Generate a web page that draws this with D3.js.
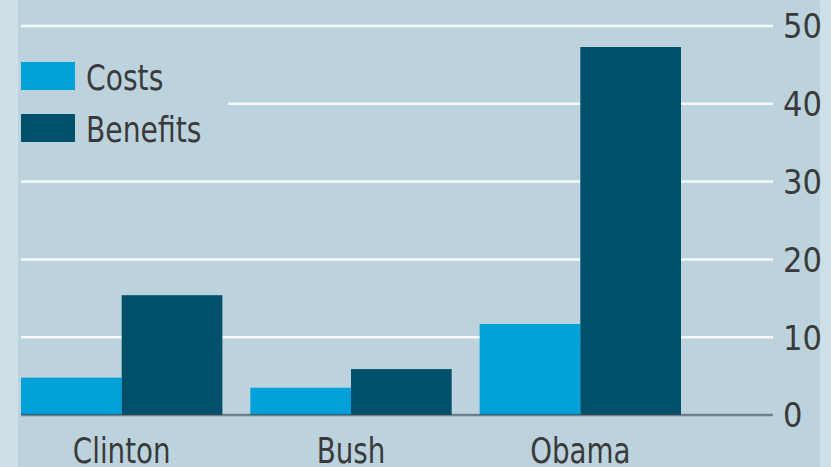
<!DOCTYPE html>
<html>
<head>
<meta charset="utf-8">
<script src="https://cdn.jsdelivr.net/npm/d3@7"></script>
<style>
  html, body { margin: 0; padding: 0; background: #bcd3de; }
  svg { display: block; }
  text { font-family: "DejaVu Sans Condensed", "DejaVu Sans", sans-serif; fill: #3a3a3a; }
</style>
</head>
<body>
<svg id="chart" width="831" height="467"></svg>
<script>
// Presidents compared
const categories = ["Clinton", "Bush", "Obama"];
const seriesNames = ["Costs", "Benefits"];
const costs = [4.8, 3.5, 11.7];
const benefits = [15.4, 5.9, 47.3];
const yTicks = [0, 10, 20, 30, 40, 50];

const colors = { Costs: "#00a1d9", Benefits: "#004f6b" };

const W = 831, H = 467;
const svg = d3.select("#chart");

// narrow the label type a little, keeping the anchor point in place
function condense(sel, k, anchor) {
  sel.each(function () {
    const t = d3.select(this);
    const len = this.getComputedTextLength();
    const x0 = +t.attr("x") || 0;
    const newLen = len * k;
    t.attr("textLength", newLen).attr("lengthAdjust", "spacingAndGlyphs")
     .attr("text-anchor", "start")
     .attr("x", anchor === "middle" ? x0 - newLen / 2 : x0);
  });
}

// panel background with lighter side strips
svg.append("rect").attr("x", 0).attr("y", 0).attr("width", W).attr("height", H).attr("fill", "#bcd3de");
svg.append("rect").attr("x", 0).attr("y", 0).attr("width", 18).attr("height", H).attr("fill", "#cddfe7");
svg.append("rect").attr("x", 820).attr("y", 0).attr("width", 11).attr("height", H).attr("fill", "#cddfe7");

const plotLeft = 21, plotRight = 773;
const y = d3.scaleLinear().domain([0, 50]).range([415, 26]);

const x = d3.scaleBand().domain(categories).range([21, 681]).paddingInner(0.122).paddingOuter(0);
const xs = d3.scaleBand().domain(seriesNames).range([0, x.bandwidth()]).padding(0);

// legend sits over the gridline at 40, which starts after it
const legendGapEnd = 228;

// gridlines
const grid = svg.append("g");
yTicks.filter(t => t > 0).forEach(t => {
  grid.append("line")
    .attr("x1", t === 40 ? legendGapEnd : plotLeft)
    .attr("x2", plotRight)
    .attr("y1", y(t)).attr("y2", y(t))
    .attr("stroke", "#f6f9fb").attr("stroke-width", 2.5);
});

// bars
const rows = categories.map((c, i) => ({ cat: c, Costs: costs[i], Benefits: benefits[i] }));
const groups = svg.append("g").selectAll("g").data(rows).join("g")
  .attr("transform", d => `translate(${x(d.cat)},0)`);
groups.selectAll("rect")
  .data(d => seriesNames.map(k => ({ key: k, value: d[k] })))
  .join("rect")
  .attr("x", d => xs(d.key))
  .attr("width", xs.bandwidth())
  .attr("y", d => y(d.value))
  .attr("height", d => y(0) - y(d.value))
  .attr("fill", d => colors[d.key]);

// baseline
svg.append("line")
  .attr("x1", plotLeft).attr("x2", plotRight)
  .attr("y1", y(0)).attr("y2", y(0))
  .attr("stroke", "#3d4a52").attr("stroke-opacity", 0.6).attr("stroke-width", 2.5);

// right-hand value axis
const yAxis = d3.axisRight(y).tickValues(yTicks).tickSize(0).tickPadding(0);
const ya = svg.append("g").attr("transform", "translate(783,0)").call(yAxis);
ya.select(".domain").remove();
ya.selectAll("text")
  .attr("font-size", 34)
  .attr("dy", "0.35em")
  .attr("fill", "#3a3a3a");

// category axis
const xAxis = d3.axisBottom(x).tickSize(0).tickPadding(0);
const xa = svg.append("g").attr("transform", `translate(0,${y(0)})`).call(xAxis);
xa.select(".domain").remove();
xa.selectAll("text")
  .attr("y", 48)
  .attr("dy", 0)
  .attr("font-size", 35)
  .attr("fill", "#3a3a3a")
  .call(condense, 0.88, "middle");
svg.selectAll(".tick text").attr("font-family", null);

// legend
const legend = svg.append("g");
seriesNames.forEach((k, i) => {
  const top = 62 + i * 52;
  legend.append("rect").attr("x", 21).attr("y", top).attr("width", 54).attr("height", 28).attr("fill", colors[k]);
  legend.append("text").attr("x", 86).attr("y", top + 28).attr("font-size", 36).text(k).call(condense, 0.87, "start");
});
</script>
</body>
</html>
